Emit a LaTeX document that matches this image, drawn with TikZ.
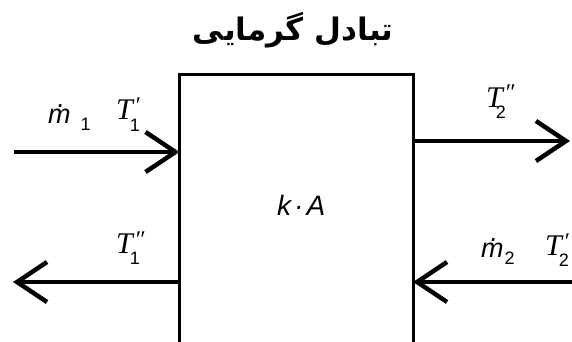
\documentclass[tikz,border=0pt]{standalone}
\usepackage{fontspec}
\setmainfont{Liberation Serif}
\newfontfamily\lsans{Liberation Sans}
\newfontfamily\farsi[Script=Arabic]{DejaVu Sans}
\TeXXeTstate=1
\usetikzlibrary{arrows.meta}
\newcommand{\subfont}{\lsans\fontsize{18}{18}\selectfont}
\newcommand{\Tsym}[3]{{\fontsize{30}{30}\selectfont\itshape T}\rlap{\kern#3\raisebox{-11pt}{\subfont #2}}\raisebox{6pt}{\kern3pt\fontsize{24}{24}\selectfont #1}}
\newcommand{\mdot}[2]{{\lsans\itshape\fontsize{27}{27}\selectfont\ooalign{m\cr\hidewidth\raisebox{16pt}{\kern4pt .}\hidewidth\cr}}\kern#1\raisebox{-7pt}{\subfont #2}}
\begin{document}
\begin{tikzpicture}[x=1pt,y=-1pt,
  arr/.style={line width=4.5pt,-{Straight Barb[length=30pt,width=40pt]}},
  lab/.style={inner sep=0pt,anchor=base west}]
\useasboundingbox (0,0) rectangle (572,342);
\clip (0,0) rectangle (572,342);
\node[draw,line width=3pt,minimum width=233.5pt,minimum height=320pt,anchor=north west,inner sep=0pt,outer sep=0pt] (hx) at (179.5,75) {};
\node[font=\farsi\bfseries\fontsize{31}{31}\selectfont,inner sep=0pt] (title) at (293,30) {\beginR تبادل گرمایی\endR};
\coordinate (a1) at (14,152);
\coordinate (a2) at (570,141);
\coordinate (a3) at (13,282);
\coordinate (a4) at (590,282);
\draw[arr] (a1) -- (a1 -| hx.west);
\draw[arr] (hx.east |- a2) -- (a2);
\draw[arr] (hx.west |- a3) -- (a3);
\draw[arr] (a4) -- (hx.east |- a4);
\node[lab] (m1) at (48,123) {\mdot{10pt}{1}};
\node[lab] (t1p) at (116,120) {\Tsym{′}{1}{-3pt}};
\node[lab] (t2pp) at (486,107) {\Tsym{″}{2}{-7pt}};
\node[lab] (t1pp) at (116,253) {\Tsym{″}{1}{-3pt}};
\node[lab] (m2) at (481,257) {\mdot{1pt}{2}};
\node[lab] (t2p) at (545,255) {\Tsym{′}{2}{-3pt}};
\node[lab,font=\lsans\itshape\fontsize{28}{28}\selectfont] (ka) at (277,215) {k\kern3pt·\kern3pt A};
\end{tikzpicture}
\end{document}
